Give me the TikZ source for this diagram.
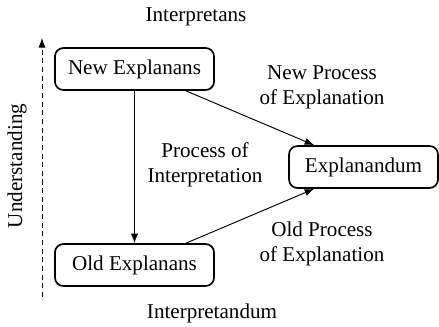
\documentclass[tikz,border=0pt]{standalone}
\usepackage{fontspec}
\setmainfont{Liberation Serif}
\usetikzlibrary{arrows.meta}
\begin{document}
\begin{tikzpicture}[x=0.474pt,y=-0.474pt,
  box/.style={draw,line width=0.8pt,rounded corners=4pt,minimum height=19.9pt,inner sep=0pt},
  lbl/.style={align=center,inner sep=0pt,font=\fontsize{10}{12}\selectfont},
  conn/.style={line width=0.45pt,-{Latex[length=4.5pt,width=3.4pt]}}]
\useasboundingbox (0,0) rectangle (439,326);
\node[lbl] (interpretans) at (196,17) {Interpretans};
\node[lbl] (interpretandum) at (212,313) {Interpretandum};
\node[lbl,rotate=90] (understanding) at (17,166) {Understanding};
\coordinate (ubot) at (42,297);
\coordinate (utop) at (42,38);
\draw[line width=0.45pt,dash pattern=on 2.4pt off 1.7pt,-{Latex[length=4.5pt,width=3.4pt]}] (ubot) -- (utop);
\node[box,minimum width=75.4pt,lbl] (new) at (134.5,69) {New Explanans};
\node[box,minimum width=75.4pt,lbl] (old) at (134.5,265) {Old Explanans};
\node[box,minimum width=70.6pt,lbl] (expl) at (363.5,167) {Explanandum};
\node[lbl] (newproc) at (322,87) {New Process\\of Explanation};
\node[lbl] (interp) at (205,165) {Process of\\Interpretation};
\node[lbl] (oldproc) at (322,244) {Old Process\\of Explanation};
\draw[conn] (new.south) -- (old.north);
\draw[conn] ([xshift=24.4pt]new.south) -- ([xshift=12.3pt]expl.north west);
\draw[conn] ([xshift=24.4pt]old.north) -- ([xshift=12.3pt]expl.south west);
\end{tikzpicture}
\end{document}
